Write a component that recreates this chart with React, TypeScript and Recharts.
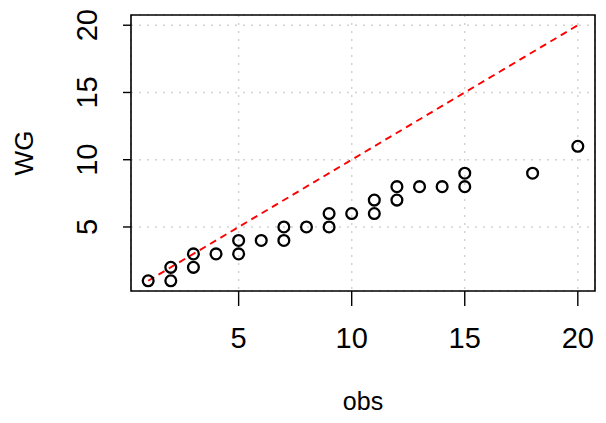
import React from 'react';
import {
  ScatterChart,
  Scatter,
  XAxis,
  YAxis,
  CartesianGrid,
  ReferenceLine,
  ReferenceArea,
} from 'recharts';

// observed vs WG
const obs = [1, 2, 2, 3, 3, 4, 5, 5, 6, 7, 7, 8, 9, 9, 10, 11, 11, 12, 12, 13, 14, 15, 15, 18, 20];
const wg = [1, 1, 2, 2, 3, 3, 3, 4, 4, 4, 5, 5, 5, 6, 6, 6, 7, 7, 8, 8, 8, 8, 9, 9, 11];

const xTicks = [5, 10, 15, 20];
const yTicks = [5, 10, 15, 20];
const domain: [number, number] = [0.24, 20.76];
const identity = [1, 20];

const points = obs.map((o, i) => ({ obs: o, wg: wg[i] }));

const FONT = '"Liberation Sans", Arial, Helvetica, sans-serif';

const Ring = (props: any) => (
  <circle cx={props.cx} cy={props.cy} r={5.4} fill="none" stroke="#000" strokeWidth={2.3} />
);

// rotated labels on the y axis, like base R
const YTick = (props: any) => {
  const { x, y, payload } = props;
  const bx = x - 26;
  return (
    <text
      x={bx}
      y={y}
      transform={`rotate(-90, ${bx}, ${y})`}
      textAnchor="middle"
      fontSize={29}
      fontFamily={FONT}
      fill="#000"
    >
      {payload.value}
    </text>
  );
};

const XTick = (props: any) => {
  const { x, y, payload } = props;
  return (
    <text x={x} y={y + 42} textAnchor="middle" fontSize={29} fontFamily={FONT} fill="#000">
      {payload.value}
    </text>
  );
};

export default function App() {
  return (
    <div style={{ position: 'absolute', left: 0, top: 0, background: '#fff' }}>
      <ScatterChart
        width={606}
        height={423}
        margin={{ top: 15, right: 11, bottom: 72, left: 71 }}
      >
        <CartesianGrid stroke="#d3d3d3" strokeDasharray="2 6" strokeWidth={1.5} />
        <XAxis
          type="number"
          dataKey="obs"
          domain={domain}
          ticks={xTicks}
          allowDataOverflow
          height={60}
          axisLine={false}
          tickSize={15}
          tickMargin={0}
          tickLine={{ stroke: '#000', strokeWidth: 1.4 }}
          tick={<XTick />}
          label={{
            content: (p: any) => {
              const vb = p.viewBox || {};
              return (
                <text
                  x={vb.x + vb.width / 2}
                  y={vb.y + 119}
                  textAnchor="middle"
                  fontSize={25}
                  fontFamily={FONT}
                  fill="#000"
                >
                  obs
                </text>
              );
            },
          }}
        />
        <YAxis
          type="number"
          dataKey="wg"
          domain={domain}
          ticks={yTicks}
          allowDataOverflow
          width={60}
          axisLine={false}
          tickSize={8}
          tickMargin={0}
          tickLine={{ stroke: '#000', strokeWidth: 1.4 }}
          tick={<YTick />}
          label={{
            content: (p: any) => {
              const vb = p.viewBox || {};
              const lx = vb.x + vb.width - 98;
              const ly = vb.y + vb.height / 2;
              return (
                <text
                  x={lx}
                  y={ly}
                  transform={`rotate(-90, ${lx}, ${ly})`}
                  textAnchor="middle"
                  fontSize={26}
                  fontFamily={FONT}
                  fill="#000"
                >
                  WG
                </text>
              );
            },
          }}
        />
        <ReferenceLine
          segment={[
            { x: identity[0], y: identity[0] },
            { x: identity[1], y: identity[1] },
          ]}
          stroke="#ff0000"
          strokeWidth={1.9}
          strokeDasharray="7 5"
        />
        <Scatter data={points} shape={<Ring />} isAnimationActive={false} />
        <ReferenceArea
          x1={domain[0]}
          x2={domain[1]}
          y1={domain[0]}
          y2={domain[1]}
          fill="none"
          fillOpacity={0}
          stroke="#000"
          strokeWidth={1.6}
        />
      </ScatterChart>
    </div>
  );
}
